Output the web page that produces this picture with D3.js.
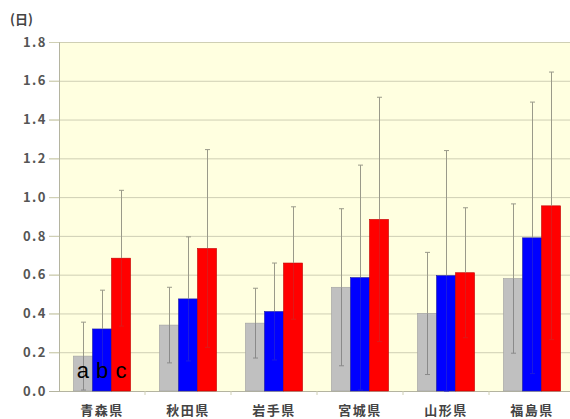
<!DOCTYPE html>
<html>
<head>
<meta charset="utf-8">
<script src="https://cdn.jsdelivr.net/npm/d3@7"></script>
<style>
  html, body { margin: 0; padding: 0; background: #fff; }
  svg { display: block; }
</style>
</head>
<body>
<div id="chart"></div>
<script>
// 県名
const prefectures = ['青森県', '秋田県', '岩手県', '宮城県', '山形県', '福島県'];
// 系列 a / b / c の平均値（日）
const seriesA = [0.18, 0.34, 0.35, 0.535, 0.40, 0.58];
const seriesB = [0.32, 0.475, 0.41, 0.585, 0.595, 0.79];
const seriesC = [0.685, 0.735, 0.66, 0.885, 0.61, 0.955];
// 誤差（上側の長さ、対称）
const errorA = [0.175, 0.195, 0.18, 0.405, 0.315, 0.385];
const errorB = [0.20, 0.32, 0.25, 0.58, 0.645, 0.70];
const errorC = [0.35, 0.51, 0.29, 0.63, 0.335, 0.69];
const seriesNames = ['a', 'b', 'c'];
const yTicks = [0, 0.2, 0.4, 0.6, 0.8, 1.0, 1.2, 1.4, 1.6, 1.8];

const colors = {
  bg: '#ffffe0',
  grid: '#cfcfb4',
  axis: '#b4b4a0',
  text: '#555555',
  bars: ['#c0c0c0', '#0000ff', '#ff0000'],
  barStroke: ['#a0a0a0', '#2020a0', '#c00000'],
  err: '#9a9a8a',
  errInside: ['#8a8a8a', '#1a1ae0', '#e01818']
};

const width = 570, height = 419;
const margin = { left: 59, top: 42, right: -5, bottom: 28 };

const svg = d3.select('#chart').append('svg')
  .attr('width', width)
  .attr('height', height);

const x = d3.scaleBand()
  .domain(prefectures)
  .range([margin.left, width - margin.right])
  .paddingInner(0.336)
  .paddingOuter(0.168);

const xSub = d3.scaleBand()
  .domain(seriesNames)
  .range([0, x.bandwidth()]);

const y = d3.scaleLinear()
  .domain([0, 1.8])
  .range([height - margin.bottom, margin.top]);

// 背景
svg.append('rect')
  .attr('x', margin.left)
  .attr('y', margin.top)
  .attr('width', width - margin.left)
  .attr('height', y(0) - margin.top)
  .attr('fill', colors.bg);

// グリッド線
svg.append('g')
  .selectAll('line')
  .data(yTicks.filter(d => d > 0))
  .enter()
  .append('line')
  .attr('x1', margin.left - 10)
  .attr('x2', width)
  .attr('y1', d => y(d) + 0.5)
  .attr('y2', d => y(d) + 0.5)
  .attr('stroke', colors.grid)
  .attr('stroke-width', 1);

// y 軸
const yAxis = svg.append('g')
  .attr('transform', `translate(${margin.left},0)`)
  .call(d3.axisLeft(y).tickValues(yTicks).tickFormat(d3.format('.1f')).tickSize(10).tickPadding(2));
yAxis.select('.domain').attr('stroke', colors.axis);
yAxis.selectAll('.tick line').attr('stroke', colors.grid);
yAxis.selectAll('.tick text')
  .attr('font-family', '"Noto Sans CJK JP", sans-serif')
  .attr('font-size', 13)
  .attr('font-weight', 'bold')
  .attr('letter-spacing', 1.5)
  .attr('fill', colors.text);

// x 軸
const xAxisG = svg.append('g')
  .attr('transform', `translate(0,${y(0)})`);
xAxisG.append('line')
  .attr('x1', margin.left - 10)
  .attr('x2', width)
  .attr('y1', 0.5).attr('y2', 0.5)
  .attr('stroke', colors.axis);
xAxisG.selectAll('line.tk')
  .data(prefectures.slice(1))
  .enter()
  .append('line')
  .attr('class', 'tk')
  .attr('x1', d => x(d) - x.step() * x.paddingInner() / 2)
  .attr('x2', d => x(d) - x.step() * x.paddingInner() / 2)
  .attr('y1', 0).attr('y2', 4)
  .attr('stroke', colors.grid);
xAxisG.selectAll('text')
  .data(prefectures)
  .enter()
  .append('text')
  .attr('x', d => x(d) + x.bandwidth() / 2)
  .attr('y', 24)
  .attr('text-anchor', 'middle')
  .attr('font-family', '"Noto Sans CJK JP", sans-serif')
  .attr('font-size', 13)
  .attr('font-weight', 'bold')
  .attr('letter-spacing', 1.5)
  .attr('fill', '#444')
  .text(d => d);

// 単位
svg.append('text')
  .attr('x', 10)
  .attr('y', 24)
  .attr('font-family', '"Noto Sans CJK JP", sans-serif')
  .attr('font-size', 13)
  .attr('font-weight', 'bold')
  .attr('fill', '#444')
  .text('(日)');

// データ整形
const values = [seriesA, seriesB, seriesC];
const errors = [errorA, errorB, errorC];
const rows = [];
prefectures.forEach((p, i) => {
  seriesNames.forEach((s, j) => {
    rows.push({ pref: p, series: s, idx: j, value: values[j][i], err: errors[j][i] });
  });
});

// 棒
svg.append('g')
  .selectAll('rect')
  .data(rows)
  .enter()
  .append('rect')
  .attr('x', d => x(d.pref) + xSub(d.series))
  .attr('y', d => y(d.value))
  .attr('width', xSub.bandwidth())
  .attr('height', d => y(0) - y(d.value))
  .attr('fill', d => colors.bars[d.idx])
  .attr('stroke', d => colors.barStroke[d.idx])
  .attr('stroke-width', 0.6);

// 誤差線（棒の上は灰色、棒の中は棒の色に近い色）
const err = svg.append('g').attr('stroke-width', 1);
rows.forEach(d => {
  const cx = Math.round(x(d.pref) + xSub(d.series) + xSub.bandwidth() / 2) + 0.5;
  const top = y(d.value + d.err);
  const mid = y(d.value);
  const bot = y(Math.max(0, d.value - d.err));
  err.append('line').attr('x1', cx).attr('x2', cx).attr('y1', top).attr('y2', mid)
    .attr('stroke', colors.err);
  err.append('line').attr('x1', cx - 2.5).attr('x2', cx + 2.5).attr('y1', top).attr('y2', top)
    .attr('stroke', colors.err);
  err.append('line').attr('x1', cx).attr('x2', cx).attr('y1', mid).attr('y2', bot)
    .attr('stroke', colors.errInside[d.idx]);
  err.append('line').attr('x1', cx - 2.5).attr('x2', cx + 2.5).attr('y1', bot).attr('y2', bot)
    .attr('stroke', colors.errInside[d.idx]);
});

// a b c ラベル
svg.append('g')
  .selectAll('text')
  .data(seriesNames)
  .enter()
  .append('text')
  .attr('x', d => x(prefectures[0]) + xSub(d) + xSub.bandwidth() / 2)
  .attr('y', y(0) - 13)
  .attr('text-anchor', 'middle')
  .attr('font-family', '"Liberation Sans", Arial, sans-serif')
  .attr('font-size', 22)
  .attr('fill', '#000')
  .text(d => d);
</script>
</body>
</html>
